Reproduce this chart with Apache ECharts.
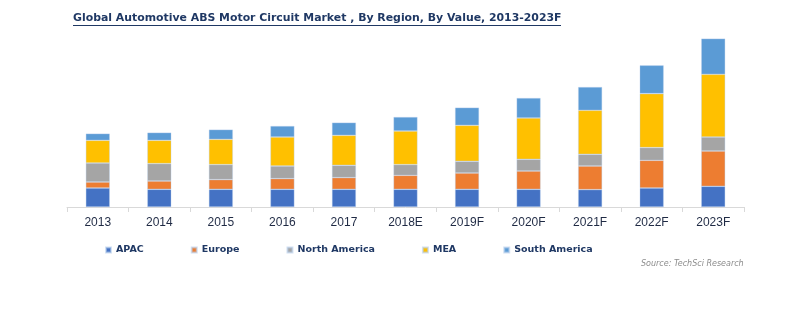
<!DOCTYPE html>
<html>
<head>
<meta charset="utf-8">
<script src="https://cdn.jsdelivr.net/npm/echarts@6/dist/echarts.min.js"></script>
<style>html,body{margin:0;padding:0;background:#fff;}#c{width:800px;height:327px;}</style>
</head>
<body>
<div id="c"></div>
<script>
var categories = ['2013','2014','2015','2016','2017','2018E','2019F','2020F','2021F','2022F','2023F'];
var apac         = [19.0, 17.7, 17.7, 17.7, 17.7, 17.7, 17.7, 17.7, 17.4, 19.0, 20.7];
var europe       = [6.0, 8.3, 9.7, 10.7, 11.7, 14.0, 16.3, 18.3, 23.6, 27.7, 35.3];
var northAmerica = [19.0, 17.4, 15.0, 12.6, 12.3, 10.7, 11.7, 11.7, 11.7, 12.7, 14.0];
var mea          = [22.7, 23.3, 25.3, 29.0, 30.0, 33.6, 36.0, 41.3, 44.0, 54.0, 62.7];
var southAmerica = [6.7, 7.7, 9.7, 11.0, 12.7, 14.0, 17.7, 20.0, 23.3, 28.3, 35.7];
var seriesNames = ['APAC','Europe','North America','MEA','South America'];
var seriesColors = ['#4472C4','#ED7D31','#A5A5A5','#FFC000','#5B9BD5'];
var seriesData = [apac, europe, northAmerica, mea, southAmerica];

var chart = echarts.init(document.getElementById('c'));
var series = seriesNames.map(function(n, i){
  return {
    name: n, type: 'bar', stack: 'total', barWidth: 24,
    data: seriesData[i],
    itemStyle: {color: seriesColors[i], borderColor: 'rgba(180,205,235,0.6)', borderWidth: 0.6},
    emphasis: {disabled: true}
  };
});
chart.setOption({
  animation: false,
  title: {
    text: 'Global Automotive ABS Motor Circuit Market , By Region, By Value, 2013-2023F',
    left: 73, top: 13, padding: 0,
    textStyle: {fontFamily: 'DejaVu Sans', fontWeight: 'bold', fontSize: 10.9, color: '#1F3864'}
  },
  graphic: [{
    type: 'line', shape: {x1: 73, y1: 25.5, x2: 561, y2: 25.5},
    style: {stroke: '#1F3864', lineWidth: 1}
  }, {
    type: 'text', left: 641, top: 260,
    style: {text: 'Source: TechSci Research', font: 'italic 8px "DejaVu Sans"', fill: '#8c8c8c'}
  }],
  legend: {
    data: seriesNames, left: 105, top: 245, padding: 0, icon: 'rect',
    itemWidth: 5, itemHeight: 5, itemGap: 47,
    textStyle: {fontFamily: 'DejaVu Sans', fontWeight: 'bold', fontSize: 9.5, color: '#1F3864'}
  },
  grid: {left: 67, right: 56, top: 27, bottom: 120},
  xAxis: {
    type: 'category', data: categories,
    axisLine: {lineStyle: {color: '#D9D9D9'}},
    axisTick: {show: true, length: 5, lineStyle: {color: '#D9D9D9'}},
    axisLabel: {margin: 10, fontFamily: 'Liberation Sans', fontSize: 12, color: '#1F2A44'}
  },
  yAxis: {type: 'value', min: 0, max: 180, show: false, splitLine: {show: false}},
  series: series
});
</script>
</body>
</html>
